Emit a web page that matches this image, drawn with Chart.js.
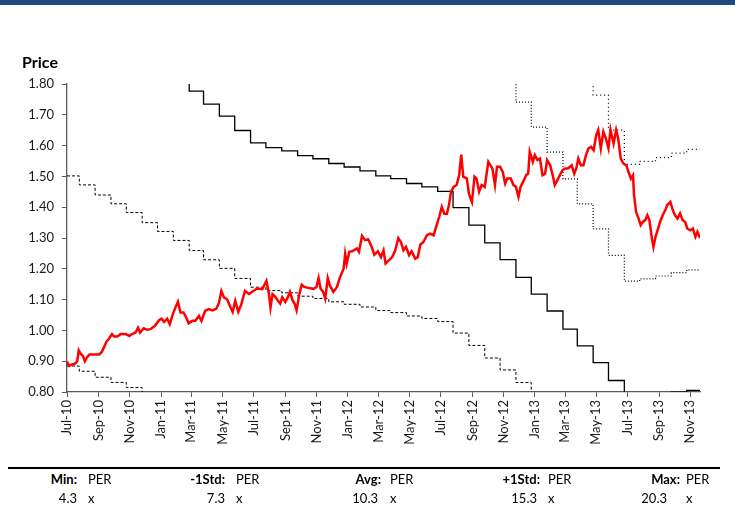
<!DOCTYPE html>
<html lang="en">
<head>
<meta charset="UTF-8" />
<title>Price with PER bands</title>
<style>
  body { margin: 0; background: #fff; font-family: Lato, "Open Sans", sans-serif; }
  .page { position: relative; width: 735px; height: 530px; overflow: hidden; }
  .topbar { position: absolute; left: 0; top: 0; width: 735px; height: 5px; background: #1f4a7c; }
  #chart { position: absolute; left: 0; top: 0; }
  .title { position: absolute; left: 22px; top: 52px; font-weight: bold; font-size: 16px; color: #000; }
  .rule { position: absolute; left: 8px; top: 467px; width: 712px; height: 2px; background: #000; }
  .stat { position: absolute; font-size: 13px; line-height: 16px; color: #000; white-space: nowrap; }
  .stat.r { text-align: right; width: 60px; }
  .stat b { font-weight: bold; }
</style>
<script src="https://cdn.jsdelivr.net/npm/chart.js@4"></script>
</head>
<body>
<div class="page">
  <div class="topbar"></div>
  <canvas id="chart" width="735" height="470"></canvas>
  <div class="title">Price</div>
  <div class="rule"></div>
  <div id="stats"></div>
</div>
<script>
// share price
const priceDates = [
  "2010-07-01","2010-07-05","2010-07-10","2010-07-17","2010-07-21","2010-07-24","2010-07-27","2010-08-01","2010-08-05","2010-08-09",
  "2010-08-14","2010-08-22","2010-09-02","2010-09-07","2010-09-11","2010-09-16","2010-09-21","2010-09-27","2010-10-01","2010-10-07",
  "2010-10-14","2010-10-24","2010-10-31","2010-11-05","2010-11-12","2010-11-17","2010-11-21","2010-11-28","2010-12-05","2010-12-11",
  "2010-12-20","2010-12-28","2011-01-02","2011-01-07","2011-01-13","2011-01-18","2011-01-24","2011-01-29","2011-02-03","2011-02-08",
  "2011-02-14","2011-02-19","2011-02-24","2011-03-03","2011-03-09","2011-03-16","2011-03-21","2011-03-28","2011-04-04","2011-04-12",
  "2011-04-19","2011-04-24","2011-04-29","2011-05-04","2011-05-10","2011-05-17","2011-05-21","2011-05-26","2011-06-01","2011-06-07",
  "2011-06-14","2011-06-22","2011-06-30","2011-07-08","2011-07-18","2011-07-26","2011-07-31","2011-08-03","2011-08-07","2011-08-12",
  "2011-08-17","2011-08-22","2011-08-26","2011-09-01","2011-09-06","2011-09-10","2011-09-15","2011-09-19","2011-09-23","2011-09-28",
  "2011-10-03","2011-10-08","2011-10-16","2011-10-26","2011-11-01","2011-11-05","2011-11-09","2011-11-14","2011-11-18","2011-11-23",
  "2011-11-27","2011-12-04","2011-12-11","2011-12-17","2011-12-24","2011-12-27","2011-12-30","2012-01-04","2012-01-10","2012-01-19",
  "2012-01-23","2012-01-29","2012-02-04","2012-02-10","2012-02-17","2012-02-22","2012-02-29","2012-03-06","2012-03-11","2012-03-15",
  "2012-03-22","2012-03-28","2012-04-03","2012-04-09","2012-04-14","2012-04-19","2012-04-24","2012-04-30","2012-05-05","2012-05-12",
  "2012-05-17","2012-05-22","2012-05-28","2012-06-04","2012-06-10","2012-06-17","2012-06-23","2012-06-28","2012-07-03","2012-07-08",
  "2012-07-13","2012-07-17","2012-07-21","2012-07-26","2012-08-01","2012-08-06","2012-08-10","2012-08-14","2012-08-21","2012-08-25",
  "2012-08-31","2012-09-05","2012-09-09","2012-09-14","2012-09-19","2012-09-25","2012-10-02","2012-10-05","2012-10-10","2012-10-15",
  "2012-10-19","2012-10-25","2012-10-30","2012-11-04","2012-11-08","2012-11-15","2012-11-20","2012-11-25","2012-11-30","2012-12-04",
  "2012-12-09","2012-12-15","2012-12-19","2012-12-22","2012-12-28","2013-01-01","2013-01-06","2013-01-11","2013-01-16","2013-01-21",
  "2013-01-25","2013-01-31","2013-02-05","2013-02-09","2013-02-14","2013-02-19","2013-02-24","2013-03-01","2013-03-07","2013-03-14",
  "2013-03-19","2013-03-23","2013-03-27","2013-04-01","2013-04-06","2013-04-11","2013-04-16","2013-04-21","2013-04-26","2013-05-01",
  "2013-05-05","2013-05-10","2013-05-15","2013-05-20","2013-05-25","2013-05-29","2013-06-04","2013-06-09","2013-06-13","2013-06-18",
  "2013-06-23","2013-06-29","2013-07-03","2013-07-08","2013-07-12","2013-07-14","2013-07-18","2013-07-23","2013-07-27","2013-07-31",
  "2013-08-05","2013-08-09","2013-08-13","2013-08-18","2013-08-21","2013-08-25","2013-08-29","2013-09-03","2013-09-08","2013-09-13",
  "2013-09-17","2013-09-23","2013-09-28","2013-10-02","2013-10-07","2013-10-12","2013-10-17","2013-10-22","2013-10-26","2013-11-01",
  "2013-11-06","2013-11-11","2013-11-15","2013-11-20"
];
const priceValues = [
  0.899,0.885,0.889,0.893,0.900,0.935,0.926,0.917,0.900,0.912,
  0.922,0.922,0.922,0.930,0.944,0.963,0.973,0.988,0.980,0.980,
  0.988,0.988,0.982,0.988,0.993,1.009,0.993,1.007,1.002,1.004,
  1.015,1.033,1.038,1.028,1.038,1.020,1.053,1.074,1.093,1.058,
  1.058,1.042,1.023,1.031,1.031,1.047,1.031,1.063,1.069,1.065,
  1.071,1.088,1.128,1.107,1.101,1.074,1.060,1.096,1.060,1.085,
  1.128,1.118,1.128,1.136,1.134,1.161,1.118,1.074,1.118,1.110,
  1.098,1.087,1.108,1.092,1.108,1.125,1.098,1.087,1.065,1.114,
  1.148,1.141,1.138,1.135,1.141,1.170,1.135,1.125,1.103,1.170,
  1.146,1.125,1.141,1.173,1.200,1.249,1.217,1.255,1.257,1.266,
  1.255,1.307,1.293,1.296,1.271,1.246,1.257,1.238,1.260,1.217,
  1.228,1.238,1.260,1.300,1.287,1.260,1.271,1.244,1.257,1.233,
  1.238,1.278,1.287,1.309,1.314,1.309,1.342,1.369,1.401,1.379,
  1.379,1.406,1.450,1.466,1.472,1.504,1.571,1.499,1.493,1.444,
  1.417,1.499,1.493,1.450,1.472,1.466,1.547,1.539,1.526,1.472,
  1.531,1.531,1.515,1.477,1.493,1.493,1.472,1.466,1.434,1.466,
  1.482,1.504,1.509,1.580,1.547,1.569,1.553,1.558,1.504,1.509,
  1.553,1.536,1.504,1.472,1.488,1.504,1.520,1.526,1.526,1.536,
  1.509,1.526,1.558,1.536,1.536,1.569,1.591,1.596,1.585,1.634,
  1.651,1.591,1.645,1.623,1.591,1.651,1.607,1.651,1.623,1.558,
  1.542,1.536,1.515,1.493,1.504,1.439,1.385,1.363,1.342,1.352,
  1.358,1.374,1.358,1.298,1.271,1.304,1.325,1.352,1.374,1.390,
  1.407,1.417,1.390,1.374,1.363,1.380,1.358,1.352,1.331,1.325,
  1.331,1.304,1.320,1.300
];

// earnings per share behind the PER bands; first value from Jul 1, later ones change on the 25th of each month
const epsValues = [
  0.2057,0.2017,0.1972,0.1933,0.1894,0.1849,0.1810,0.1770,0.1725,0.1684,
  0.1646,0.1601,0.1562,0.1547,0.1537,0.1522,0.1512,0.1497,0.1486,0.1474,
  0.1458,0.1449,0.1434,0.1423,0.1409,0.1358,0.1303,0.1247,0.1194,0.1138,
  0.1085,0.1032,0.0975,0.0922,0.0869,0.0813,0.0758,0.0763,0.0769,0.0776,
  0.0782
];

const bandNames = ["Min:", "-1Std:", "Avg:", "+1Std:", "Max:"];
const perMultiples = [4.3, 7.3, 10.3, 15.3, 20.3];

const tickLabels = [
  "Jul-10","Sep-10","Nov-10","Jan-11","Mar-11","May-11","Jul-11","Sep-11","Nov-11","Jan-12","Mar-12",
  "May-12","Jul-12","Sep-12","Nov-12","Jan-13","Mar-13","May-13","Jul-13","Sep-13","Nov-13"
];

const DAY = 86400000;
const origin = Date.UTC(2010, 6, 1);
const dayOf = s => (Date.parse(s) - origin) / DAY;
const monthNames = ["Jan","Feb","Mar","Apr","May","Jun","Jul","Aug","Sep","Oct","Nov","Dec"];
const tickDays = tickLabels.map(l => {
  const [m, y] = l.split("-");
  return (Date.UTC(2000 + Number(y), monthNames.indexOf(m), 1) - origin) / DAY;
});
const endDay = dayOf(priceDates[priceDates.length - 1]);

const epsDays = epsValues.map((_, i) => i === 0 ? 0 : (Date.UTC(2010, 5 + i, 25) - origin) / DAY);

const bandStyles = [
  { dash: [3, 2], width: 1 },
  { dash: [3, 2], width: 1 },
  { dash: [], width: 1.3 },
  { dash: [1, 2], width: 1.2 },
  { dash: [1, 3], width: 1.2 }
];

const datasets = [{
  label: "Price",
  data: priceDates.map((d, i) => ({ x: dayOf(d), y: priceValues[i] })),
  borderColor: "#ff0000",
  borderWidth: 2.5,
  pointRadius: 0,
  tension: 0,
  order: 0
}];

perMultiples.forEach((m, k) => {
  const pts = epsDays.map((d, i) => ({ x: d, y: m * epsValues[i] }));
  pts.push({ x: endDay, y: m * epsValues[epsValues.length - 1] });
  datasets.push({
    label: bandNames[k],
    data: pts,
    stepped: true,
    borderColor: "#000",
    borderWidth: bandStyles[k].width,
    borderDash: bandStyles[k].dash,
    pointRadius: 0,
    order: 1
  });
});

const axisColor = "#595959";
const tickFont = { family: "Lato", size: 13 };

new Chart(document.getElementById("chart"), {
  type: "line",
  data: { datasets },
  options: {
    responsive: false,
    animation: false,
    devicePixelRatio: 1,
    layout: { padding: { left: 0, top: 84, right: 35, bottom: 0 } },
    plugins: { legend: { display: false }, tooltip: { enabled: false } },
    scales: {
      x: {
        type: "linear",
        min: 0,
        max: endDay,
        afterBuildTicks: s => { s.ticks = tickDays.map(v => ({ value: v })); },
        afterFit: s => { s.height = 78; },
        ticks: {
          autoSkip: false,
          minRotation: 90,
          maxRotation: 90,
          padding: 3,
          color: "#1a1a1a",
          font: tickFont,
          callback: v => tickLabels[tickDays.indexOf(v)]
        },
        grid: { drawOnChartArea: false, drawTicks: true, tickLength: 5, color: axisColor },
        border: { color: axisColor, width: 1.3 }
      },
      y: {
        min: 0.8,
        max: 1.8,
        afterFit: s => { s.width = 67; },
        ticks: {
          stepSize: 0.1,
          padding: 8,
          color: "#1a1a1a",
          font: tickFont,
          callback: v => v.toFixed(2)
        },
        grid: { drawOnChartArea: false, drawTicks: true, tickLength: 5, color: axisColor },
        border: { color: axisColor, width: 1.3 }
      }
    }
  }
});

// PER summary under the chart
const statPos = [
  { label: 77, value: 77, unit: 88 },
  { label: 225, value: 225, unit: 236 },
  { label: 381, value: 378, unit: 390 },
  { label: 540, value: 537, unit: 548 },
  { label: 680, value: 667, unit: 686 }
];
const stats = document.getElementById("stats");
function put(html, left, top, right) {
  const el = document.createElement("div");
  el.className = "stat" + (right ? " r" : "");
  el.style.left = (right ? left - 60 : left) + "px";
  el.style.top = top + "px";
  el.innerHTML = html;
  stats.appendChild(el);
}
bandNames.forEach((name, i) => {
  const p = statPos[i];
  put("<b>" + name + "</b>", p.label, 471, true);
  put("PER", p.unit, 471, false);
  put(perMultiples[i].toFixed(1), p.value, 490, true);
  put("x", p.unit, 490, false);
});
</script>
</body>
</html>
